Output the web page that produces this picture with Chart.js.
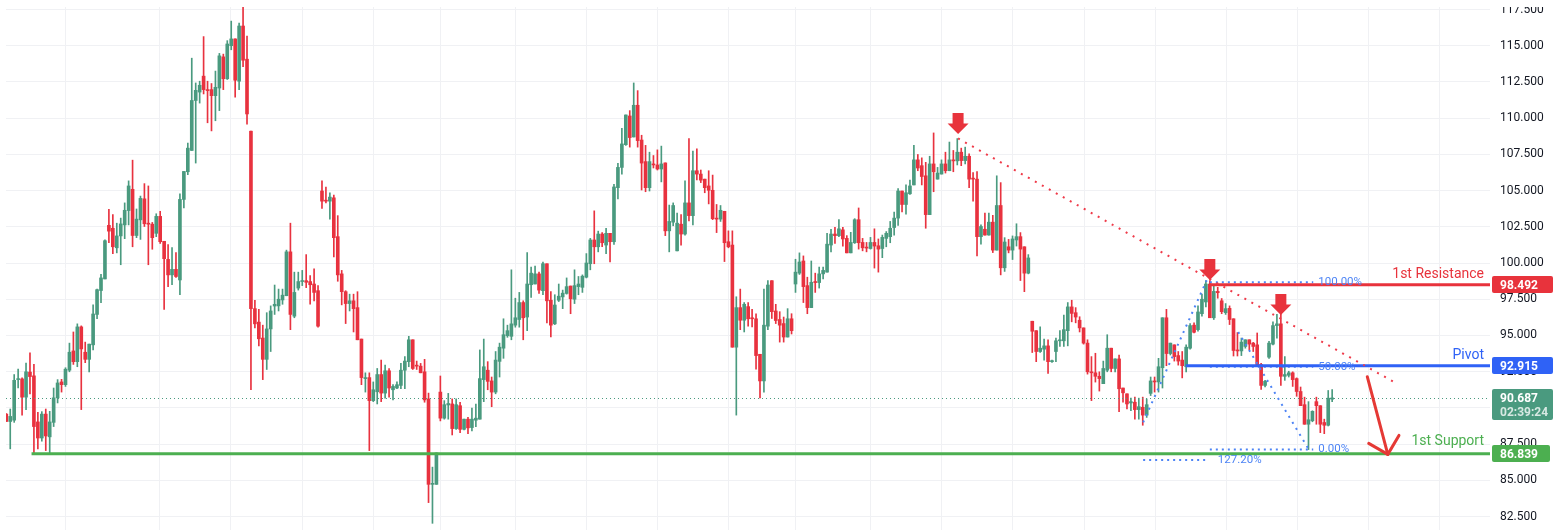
<!DOCTYPE html>
<html>
<head>
<meta charset="utf-8">
<script src="https://cdn.jsdelivr.net/npm/chart.js@4.4.1/dist/chart.umd.min.js"></script>
<style>
  html, body { margin: 0; padding: 0; background: #fff; }
  #wrap { width: 1560px; height: 530px; position: relative; }
</style>
</head>
<body>
<div id="wrap"><canvas id="myChart"></canvas></div>
<script>
// candles, oldest first (index = bar number)
const opens = [
  89.57, 89.06, 89.15, 91.95, 92.0, 90.74, 92.47, 92.21, 89.03, 87.92,
  89.57, 88.0, 89.0, 90.69, 91.79, 91.6, 92.6, 93.93, 93.19, 95.59,
  93.84, 93.35, 94.35, 96.45, 98.1, 98.9, 102.6, 102.4, 101.05, 101.87,
  102.63, 103.62, 105.09, 101.9, 102.98, 104.43, 102.75, 102.68, 102.05, 103.22,
  101.5, 100.25, 99.18, 99.56, 98.83, 104.39, 106.3, 107.77, 111.22, 111.8,
  112.9, 111.97, 111.97, 111.55, 112.08, 114.23, 112.72, 115.0, 115.47, 112.55,
  116.36, 114.07, 109.1, 96.85, 95.92, 94.82, 93.35, 95.45, 97.03, 97.04,
  97.45, 97.74, 100.77, 96.33, 98.27, 98.72, 98.78, 98.72, 98.55, 98.09,
  104.97, 104.34, 104.27, 104.5, 101.82, 99.25, 98.02, 97.2, 97.39, 96.92,
  94.75, 92.02, 92.09, 90.5, 91.11, 92.3, 91.02, 92.56, 91.25, 91.37,
  91.55, 92.6, 93.19, 94.7, 92.95, 92.88, 92.49, 90.62, 84.72, 84.72,
  91.09, 89.29, 90.2, 90.27, 88.57, 90.15, 88.52, 89.22, 88.64, 89.15,
  89.22, 91.95, 92.6, 91.86, 91.09, 93.21, 94.12, 94.98, 94.94, 95.71,
  96.1, 97.27, 96.27, 98.5, 98.55, 99.25, 98.09, 99.95, 97.43, 95.8,
  97.43, 97.66, 97.9, 98.41, 97.5, 98.37, 98.32, 99.02, 99.95, 101.59,
  101.12, 102.0, 101.24, 102.05, 101.47, 105.2, 106.6, 108.17, 110.15, 108.7,
  110.89, 108.49, 107.0, 105.2, 106.84, 106.77, 106.49, 106.91, 102.22, 102.82,
  100.84, 102.68, 102.0, 104.15, 103.27, 106.37, 106.14, 105.79, 105.32, 105.02,
  103.1, 103.03, 103.57, 101.47, 101.24, 94.19, 96.92, 96.05, 96.99, 96.22,
  96.15, 93.7, 91.86, 95.64, 98.78, 96.69, 96.1, 95.82, 94.89, 96.15,
  98.55, 99.3, 100.14, 98.44, 96.92, 98.72, 98.65, 99.25, 99.37, 101.24,
  102.0, 101.89, 102.29, 101.7, 100.7, 101.4, 102.99, 101.42, 101.1, 101.0,
  101.42, 101.19, 101.0, 101.7, 101.82, 102.45, 103.1, 104.97, 104.04, 104.78,
  105.39, 107.12, 106.72, 106.02, 103.34, 106.84, 105.79, 106.14, 106.84, 106.37,
  107.12, 107.05, 107.65, 107.07, 107.37, 105.86, 105.79, 101.82, 102.33, 101.93,
  102.82, 100.89, 103.97, 99.67, 101.12, 100.89, 101.59, 101.82, 101.12, 99.3,
  95.98, 95.33, 93.89, 94.05, 94.28, 93.19, 93.89, 94.63, 94.63, 95.33,
  96.97, 96.57, 96.05, 95.52, 94.47, 92.49, 92.42, 92.18, 91.67, 92.6,
  94.12, 92.72, 93.38, 91.37, 90.97, 90.34, 90.39, 89.88, 90.04, 89.5,
  91.0, 91.86, 91.79, 92.77, 96.22, 93.75, 94.35, 93.61, 93.3, 92.84,
  94.12, 95.71, 95.4, 96.5, 97.31, 98.55, 96.22, 98.04, 97.39, 96.57,
  96.87, 96.15, 94.0, 93.93, 94.24, 94.7, 94.47, 94.35, 93.0, 91.55,
  93.5, 94.4, 95.68, 95.8, 92.18, 92.25, 92.42, 92.02, 91.13, 90.22,
  88.87, 89.11, 90.43, 90.15, 88.99, 88.8, 90.6
];
const highs = [
  89.6, 89.92, 92.3, 92.67, 92.07, 93.09, 93.8, 93.0, 89.69, 89.74,
  89.92, 89.76, 91.37, 91.95, 91.97, 92.77, 94.47, 95.24, 95.8, 95.66,
  94.54, 94.4, 97.11, 98.2, 99.21, 101.6, 103.7, 103.34, 102.75, 103.1,
  104.15, 105.67, 107.1, 103.73, 104.62, 105.48, 105.32, 102.8, 103.4, 103.57,
  101.5, 101.28, 101.07, 100.72, 104.78, 106.32, 108.28, 114.14, 112.43, 112.55,
  115.63, 112.55, 112.39, 113.25, 114.47, 114.42, 115.35, 116.7, 115.47, 116.57,
  117.7, 115.66, 109.1, 97.43, 96.8, 95.71, 96.57, 97.04, 98.48, 98.2,
  98.2, 100.89, 102.75, 99.37, 99.37, 99.49, 100.58, 99.14, 99.6, 98.44,
  105.67, 105.25, 104.85, 104.69, 103.27, 99.49, 98.09, 97.85, 97.85, 98.02,
  94.75, 92.42, 92.42, 91.79, 92.72, 93.3, 92.95, 92.72, 91.6, 91.79,
  93.07, 93.54, 94.94, 94.7, 93.23, 93.07, 93.35, 91.02, 85.91, 86.89,
  92.2, 90.5, 91.0, 90.62, 90.62, 90.39, 89.22, 89.34, 89.99, 90.27,
  94.0, 94.75, 93.19, 92.13, 93.89, 94.47, 96.15, 95.71, 99.53, 97.57,
  97.97, 97.39, 100.72, 99.72, 99.79, 99.37, 100.07, 99.95, 98.02, 97.81,
  98.55, 98.13, 98.97, 98.41, 99.53, 99.07, 99.18, 100.65, 101.7, 103.6,
  102.2, 102.1, 102.4, 102.05, 105.44, 106.88, 109.3, 110.22, 110.52, 112.43,
  111.9, 108.82, 108.12, 107.65, 107.42, 107.81, 108.07, 106.91, 104.0, 104.15,
  103.45, 103.34, 105.67, 108.59, 107.72, 107.88, 106.42, 105.79, 106.37, 106.07,
  104.04, 103.97, 103.57, 102.22, 102.22, 97.67, 98.2, 97.27, 97.27, 96.8,
  96.5, 93.7, 98.2, 98.78, 98.78, 97.15, 96.64, 96.27, 96.85, 96.5,
  100.26, 100.7, 100.49, 99.02, 100.14, 99.3, 99.72, 99.72, 102.05, 102.33,
  102.47, 102.99, 102.47, 101.89, 102.12, 103.06, 103.8, 101.7, 101.42, 101.77,
  102.36, 101.66, 101.93, 102.17, 102.87, 103.52, 105.13, 104.97, 105.39, 105.72,
  108.12, 107.49, 107.26, 106.95, 107.37, 108.98, 106.6, 107.12, 107.65, 108.35,
  107.77, 108.59, 107.93, 108.0, 107.54, 106.25, 106.32, 102.64, 103.45, 103.45,
  103.29, 106.02, 105.55, 101.75, 101.63, 101.87, 102.71, 102.1, 101.12, 100.58,
  95.98, 95.33, 95.59, 94.75, 94.7, 93.3, 94.82, 95.33, 96.4, 97.27,
  97.43, 96.92, 96.29, 95.52, 94.7, 93.54, 93.77, 92.49, 93.23, 95.05,
  94.12, 93.38, 93.65, 91.37, 90.97, 90.67, 90.74, 90.67, 90.74, 90.62,
  92.13, 92.13, 93.42, 96.22, 96.8, 94.47, 94.35, 93.89, 93.89, 94.35,
  95.82, 95.87, 97.04, 97.85, 98.79, 98.79, 98.44, 98.32, 97.55, 97.2,
  97.04, 96.15, 95.2, 94.82, 94.7, 94.7, 94.52, 95.17, 93.07, 91.9,
  94.6, 95.94, 96.45, 96.45, 93.54, 92.53, 92.49, 92.07, 91.44, 90.74,
  90.43, 89.8, 90.74, 90.15, 89.22, 91.2, 91.27
];
const lows = [
  89.06, 87.17, 89.0, 91.37, 89.5, 89.88, 90.97, 86.77, 87.17, 87.7,
  87.05, 86.89, 88.71, 90.34, 91.09, 91.48, 92.49, 93.0, 92.84, 89.88,
  93.12, 92.49, 94.0, 96.15, 97.27, 98.9, 101.4, 100.65, 100.7, 99.88,
  101.68, 102.63, 101.12, 101.75, 101.63, 102.52, 99.88, 100.95, 101.82, 101.35,
  96.8, 98.37, 98.5, 99.0, 97.81, 103.8, 106.1, 107.77, 106.9, 111.04,
  111.67, 109.68, 109.12, 109.82, 110.52, 111.97, 112.67, 114.72, 111.45, 111.97,
  113.55, 109.59, 91.25, 95.52, 94.28, 91.95, 92.65, 93.89, 96.45, 96.69,
  97.15, 97.74, 95.4, 96.22, 98.13, 98.44, 98.3, 97.15, 97.38, 95.57,
  103.76, 104.15, 103.03, 100.42, 98.74, 97.11, 95.82, 96.69, 95.24, 94.7,
  91.6, 91.09, 87.05, 90.43, 90.27, 90.43, 90.67, 90.74, 90.55, 91.32,
  91.32, 91.32, 92.84, 92.65, 92.65, 92.42, 90.39, 83.46, 82.03, 84.72,
  89.1, 89.22, 89.22, 88.13, 88.52, 88.29, 88.48, 88.22, 88.41, 88.71,
  89.22, 90.43, 91.25, 90.08, 90.97, 92.13, 93.42, 94.87, 94.7, 95.57,
  95.57, 94.7, 95.33, 97.62, 98.55, 97.9, 97.81, 95.87, 94.89, 95.75,
  97.34, 96.85, 97.85, 96.5, 97.2, 97.81, 97.97, 98.97, 99.53, 99.95,
  100.77, 101.12, 100.65, 100.07, 101.28, 104.43, 106.14, 108.12, 108.0, 108.7,
  108.0, 105.04, 104.92, 104.97, 106.56, 106.42, 105.6, 101.89, 100.77, 102.57,
  100.84, 101.24, 101.93, 102.91, 102.63, 105.74, 105.55, 104.85, 104.08, 102.99,
  102.1, 102.87, 100.1, 101.05, 94.19, 89.5, 95.4, 95.24, 95.64, 95.59,
  92.67, 90.69, 91.09, 95.4, 96.17, 95.82, 94.54, 94.54, 94.89, 95.1,
  97.97, 99.21, 97.27, 96.5, 96.92, 97.97, 98.27, 98.9, 99.37, 100.77,
  101.35, 101.82, 101.17, 100.7, 100.7, 101.35, 100.96, 100.84, 100.77, 100.96,
  99.65, 99.37, 100.37, 101.12, 101.4, 101.93, 102.59, 103.52, 103.38, 104.74,
  105.39, 106.37, 105.39, 102.4, 103.34, 104.92, 105.79, 106.14, 106.21, 106.37,
  106.3, 106.77, 106.72, 106.84, 105.2, 104.27, 100.49, 101.3, 101.93, 101.93,
  100.72, 100.89, 99.18, 99.42, 100.7, 100.24, 101.17, 98.79, 98.02, 99.25,
  93.82, 93.19, 93.82, 93.3, 92.37, 93.14, 93.19, 94.24, 94.24, 94.28,
  95.94, 95.87, 95.24, 94.4, 92.33, 90.5, 91.78, 91.16, 91.67, 92.49,
  92.49, 92.49, 89.74, 90.39, 89.92, 89.8, 89.22, 89.22, 88.8, 89.34,
  90.85, 91.09, 91.09, 91.37, 92.91, 93.65, 93.23, 92.95, 92.07, 92.49,
  94.05, 95.17, 95.29, 96.33, 96.97, 96.22, 96.1, 97.57, 96.5, 96.45,
  95.75, 93.58, 93.58, 93.61, 94.12, 94.0, 93.89, 92.91, 91.27, 91.44,
  93.42, 94.35, 94.82, 91.55, 91.9, 92.13, 91.48, 90.8, 90.15, 88.87,
  87.12, 89.04, 88.87, 88.29, 88.22, 88.75, 90.43
];
const closes = [
  89.06, 89.41, 91.9, 92.0, 90.74, 92.49, 92.16, 88.71, 87.92, 89.57,
  88.06, 89.03, 90.69, 91.72, 91.6, 92.67, 93.84, 93.19, 95.59, 94.07,
  93.35, 94.4, 96.48, 98.16, 98.97, 101.54, 102.2, 101.12, 101.87, 102.7,
  103.64, 105.32, 101.9, 103.03, 104.46, 102.71, 102.68, 101.75, 103.22, 101.47,
  100.3, 99.18, 99.56, 99.07, 104.39, 106.32, 107.93, 111.22, 111.92, 112.27,
  111.97, 111.9, 111.55, 112.13, 114.3, 112.72, 115.12, 115.47, 112.62, 116.36,
  114.0, 110.29, 96.85, 95.8, 94.77, 93.35, 95.45, 96.69, 97.15, 97.5,
  97.78, 100.77, 96.45, 97.97, 98.72, 98.78, 98.67, 98.5, 97.97, 95.64,
  104.27, 104.27, 104.55, 101.75, 99.18, 98.02, 97.2, 97.39, 96.85, 94.7,
  92.09, 92.09, 90.5, 91.25, 92.3, 91.02, 92.56, 91.37, 91.48, 91.6,
  92.6, 93.23, 94.7, 92.72, 92.88, 92.42, 90.55, 84.72, 84.79, 86.89,
  89.29, 90.22, 90.3, 88.57, 90.22, 88.52, 89.22, 88.62, 89.22, 89.29,
  92.02, 92.84, 91.83, 91.09, 93.3, 94.19, 95.05, 95.33, 95.8, 96.22,
  97.27, 96.22, 98.55, 99.3, 99.25, 98.13, 99.95, 97.39, 95.71, 97.1,
  97.71, 97.92, 98.37, 97.53, 98.44, 98.55, 99.09, 100.0, 101.59, 101.12,
  102.0, 101.4, 102.05, 101.47, 105.25, 106.6, 108.22, 110.22, 108.66, 110.89,
  108.45, 106.9, 105.2, 107.0, 106.77, 106.49, 106.84, 102.22, 102.87, 103.97,
  102.75, 102.0, 104.15, 103.27, 106.37, 106.14, 105.72, 105.2, 105.02, 103.06,
  103.03, 103.64, 101.4, 101.12, 94.19, 96.92, 96.05, 97.15, 96.15, 96.15,
  93.61, 91.86, 95.71, 98.48, 96.64, 96.03, 95.71, 94.89, 96.15, 95.33,
  99.37, 100.07, 98.37, 96.92, 98.67, 98.65, 99.25, 99.49, 101.3, 102.0,
  101.89, 102.36, 101.66, 100.7, 101.42, 102.99, 101.4, 101.05, 101.03, 101.42,
  101.17, 100.96, 101.77, 102.05, 102.4, 103.1, 104.97, 104.04, 104.85, 105.32,
  107.12, 106.56, 105.97, 103.34, 106.84, 106.3, 106.21, 106.84, 106.37, 107.12,
  107.05, 107.65, 107.07, 107.37, 105.79, 105.79, 101.82, 102.52, 101.93, 102.82,
  100.89, 103.97, 99.67, 101.45, 100.89, 101.66, 101.82, 100.96, 99.3, 100.35,
  95.29, 93.89, 94.12, 94.28, 93.19, 93.26, 94.63, 94.7, 95.4, 96.97,
  96.52, 96.27, 95.52, 94.47, 92.49, 92.42, 92.18, 92.02, 92.72, 94.12,
  92.72, 93.38, 91.32, 91.04, 90.27, 90.43, 89.88, 90.08, 89.5, 90.22,
  91.86, 91.79, 92.84, 96.22, 93.75, 94.47, 93.54, 93.23, 92.91, 94.19,
  95.68, 95.22, 96.62, 97.5, 98.55, 96.22, 98.04, 97.95, 96.64, 96.85,
  96.1, 93.96, 93.93, 94.54, 94.7, 94.4, 94.24, 92.91, 91.55, 91.83,
  94.47, 95.68, 95.8, 92.18, 92.3, 92.42, 91.95, 91.13, 90.15, 88.87,
  89.18, 89.76, 90.15, 88.87, 88.8, 90.67, 90.687
];

// price scale ticks and time grid (bar index where a vertical grid line sits)
const yTicks = [82.5, 85, 87.5, 90, 92.5, 95, 97.5, 100, 102.5, 105, 107.5, 110, 112.5, 115, 117.5];
const xGrid = [15, 38.9, 56.9, 75, 93, 110.1, 129.1, 147.1, 165, 183, 200, 219, 237, 255, 273.2, 291.2, 309.2, 327.2, 345.3, 363.3];

// levels
const resistance = 98.492;
const pivot = 92.915;
const support = 86.839;
const lastPrice = 90.687;
const countdown = '02:39:24';

// drawings, in [bar index, price]
const trendLine = [[241.2, 108.6], [352.7, 91.63]];
const sellArrows = [[241.2, 108.91], [305.0, 98.83], [323.0, 96.41]];
const fibLevels = [['100.00%', 98.67], ['50.00%', 92.84], ['0.00%', 87.12]];
const fibExt = ['127.20%', 86.4];
const fibLegUp = [[288.1, 89.0], [304.2, 98.8]];
const fibLegDown = [[312.2, 95.24], [330.0, 87.17]];
const projection = [[344.9, 92.15], [350.1, 86.79]];

const UP = '#4a9a7f';
const DOWN = '#e8323f';
const RED = '#e8333c';
const BLUE = '#2f62f6';
const GREEN = '#4caf50';
const FIB = '#4d84f5';
const GRID = '#f0f1f4';
const FONT = 'Roboto, "Noto Sans", sans-serif';

const candleColor = c => closes[c.dataIndex] >= opens[c.dataIndex] ? UP : DOWN;

const overlay = {
  id: 'overlay',
  afterDatasetsDraw(chart) {
    const {ctx, chartArea: a, scales: {x, y}} = chart;
    const px = v => x.getPixelForValue(v);
    const py = v => y.getPixelForValue(v);
    const seg = (x1, y1, x2, y2, color, w, dash) => {
      ctx.beginPath();
      ctx.setLineDash(dash || []);
      ctx.strokeStyle = color;
      ctx.lineWidth = w;
      ctx.moveTo(x1, y1);
      ctx.lineTo(x2, y2);
      ctx.stroke();
      ctx.setLineDash([]);
    };
    ctx.save();
    ctx.beginPath();
    ctx.rect(a.left, a.top, a.right - a.left, a.bottom - a.top);
    ctx.clip();

    // last price
    const ly = Math.round(py(lastPrice)) + 0.5;
    seg(a.left, ly, a.right, ly, UP, 1, [1, 3]);

    // fib drawing
    fibLevels.forEach(([t, p]) => {
      seg(px(305.0), py(p), px(331.2), py(p), FIB, 2, [2, 4]);
    });
    seg(px(288.1), py(fibExt[1]), px(304.5), py(fibExt[1]), FIB, 2, [2, 4]);
    seg(px(fibLegUp[0][0]), py(fibLegUp[0][1]), px(fibLegUp[1][0]), py(fibLegUp[1][1]), FIB, 2, [2, 5]);
    seg(px(fibLegDown[0][0]), py(fibLegDown[0][1]), px(fibLegDown[1][0]), py(fibLegDown[1][1]), FIB, 2, [2, 5]);

    // levels
    seg(px(6.4), py(support), a.right, py(support), GREEN, 3);
    seg(px(305.0), py(resistance), a.right, py(resistance), RED, 3);
    seg(px(298.9), py(pivot), a.right, py(pivot), BLUE, 3);

    // fib texts
    ctx.font = '11.5px ' + FONT;
    ctx.fillStyle = FIB;
    ctx.textAlign = 'left';
    ctx.textBaseline = 'middle';
    fibLevels.forEach(([t, p]) => ctx.fillText(t, px(331.2) + 5, py(p)));
    ctx.fillText(fibExt[0], px(304.5) + 10, py(fibExt[1]));

    // trend line
    seg(px(trendLine[0][0]), py(trendLine[0][1]), px(trendLine[1][0]), py(trendLine[1][1]), '#ef3a49', 2, [2, 6]);

    // sell arrows
    ctx.fillStyle = RED;
    sellArrows.forEach(([i, p]) => {
      const cx = px(i), ty = py(p);
      ctx.beginPath();
      ctx.moveTo(cx, ty);
      ctx.lineTo(cx - 10.5, ty - 10.5);
      ctx.lineTo(cx - 5.5, ty - 10.5);
      ctx.lineTo(cx - 5.5, ty - 21);
      ctx.lineTo(cx + 5.5, ty - 21);
      ctx.lineTo(cx + 5.5, ty - 10.5);
      ctx.lineTo(cx + 10.5, ty - 10.5);
      ctx.closePath();
      ctx.fill();
    });

    // projection arrow
    const sx = px(projection[0][0]), sy = py(projection[0][1]);
    const ex = px(projection[1][0]), ey = py(projection[1][1]);
    ctx.lineCap = 'round';
    ctx.lineJoin = 'round';
    seg(sx, sy, ex, ey, '#e53935', 3);
    const ang = Math.atan2(sy - ey, sx - ex);
    [-0.79, 0.79].forEach(d => {
      seg(ex, ey, ex + 22 * Math.cos(ang + d), ey + 22 * Math.sin(ang + d), '#e53935', 3);
    });
    ctx.lineCap = 'butt';

    // level names
    ctx.font = '14px ' + FONT;
    ctx.textAlign = 'right';
    ctx.textBaseline = 'alphabetic';
    [['1st Resistance', resistance, RED, 7], ['Pivot', pivot, BLUE, 7], ['1st Support', support, GREEN, 9]]
      .forEach(([t, p, c, off]) => { ctx.fillStyle = c; ctx.fillText(t, a.right - 6, py(p) - off); });
    ctx.restore();
  },
  afterDraw(chart) {
    const {ctx, chartArea: a, scales: {y}} = chart;
    // price pane starts a few px below the top edge
    ctx.save();
    ctx.fillStyle = '#fff';
    ctx.fillRect(0, 0, chart.width, a.top);
    const box = (p, color, text, w) => {
      const cy = Math.round(y.getPixelForValue(p));
      ctx.fillStyle = color;
      ctx.beginPath();
      ctx.roundRect(a.right + 2, cy - 9, w, 17, 2);
      ctx.fill();
      ctx.fillStyle = '#fff';
      ctx.fillText(text, a.right + 10, cy + 0.5);
    };
    ctx.font = 'bold 12px ' + FONT;
    ctx.textAlign = 'left';
    ctx.textBaseline = 'middle';
    box(resistance, RED, resistance.toFixed(3), 61);
    box(pivot, BLUE, pivot.toFixed(3), 61);
    box(support, GREEN, support.toFixed(3), 58);
    const cy = Math.round(y.getPixelForValue(lastPrice));
    ctx.fillStyle = UP;
    ctx.beginPath();
    ctx.roundRect(a.right + 2, cy - 9, 61, 31, 2);
    ctx.fill();
    ctx.fillStyle = '#fff';
    ctx.fillText(lastPrice.toFixed(3), a.right + 10, cy + 0.5);
    ctx.fillStyle = 'rgba(255,255,255,0.78)';
    ctx.fillText(countdown, a.right + 10, cy + 14.5);
    ctx.restore();
  }
};

const ctx = document.getElementById('myChart');
const bars = opens.map((o, i) => i);

const config = {
  type: 'bar',
  data: {
    datasets: [{
      label: 'wick',
      data: bars.map(i => ({x: i, y: [lows[i], highs[i]]})),
      backgroundColor: candleColor,
      barThickness: 1,
      grouped: false,
      borderWidth: 0
    }, {
      label: 'body',
      data: bars.map(i => ({x: i, y: [opens[i], closes[i]]})),
      backgroundColor: candleColor,
      barThickness: 3,
      minBarLength: 1,
      grouped: false,
      borderWidth: 0
    }]
  },
  options: {
    responsive: true,
    maintainAspectRatio: false,
    animation: false,
    devicePixelRatio: 1,
    layout: {padding: {left: 6, top: 7, right: 0, bottom: 0}},
    scales: {
      x: {
        type: 'linear',
        min: -0.076,
        max: 376,
        offset: false,
        grid: {color: GRID, drawTicks: false, offset: false},
        border: {display: false},
        ticks: {display: false},
        afterBuildTicks: s => { s.ticks = xGrid.map(v => ({value: v})); },
        afterFit: s => { s.height = 0; s.paddingLeft = 0; s.paddingRight = 0; }
      },
      y: {
        position: 'right',
        min: 81.569,
        max: 117.673,
        grid: {color: GRID, drawTicks: false},
        border: {display: false},
        ticks: {
          autoSkip: false,
          padding: 10,
          color: '#131722',
          font: {family: FONT, size: 12},
          callback: v => v.toFixed(3)
        },
        afterBuildTicks: s => { s.ticks = yTicks.map(v => ({value: v})); },
        afterFit: s => { s.width = 70; s.paddingTop = 0; s.paddingBottom = 0; }
      }
    },
    plugins: {
      legend: {display: false},
      tooltip: {enabled: false}
    }
  },
  plugins: [overlay]
};

const chart = new Chart(ctx, config);
</script>
</body>
</html>
